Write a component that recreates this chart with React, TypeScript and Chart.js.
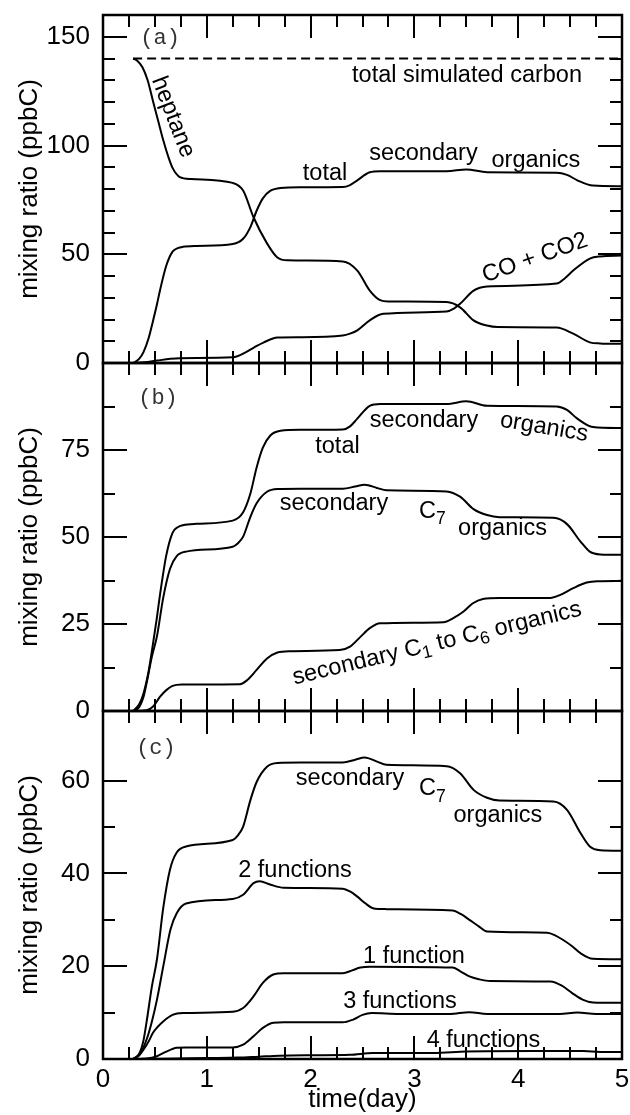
import React, { useEffect, useRef } from 'react';
import { Chart, registerables } from 'chart.js';

Chart.register(...registerables);

const FONT = '"Liberation Sans", Arial, Helvetica, sans-serif';
const MONO = '"Liberation Mono", "Courier New", monospace';

// ---------- data (time in days, mixing ratio in ppbC) ----------
const carbonDays = [0.29, 5.0];
const carbonVals = [140, 140];

const heptaneDays = [0.29, 0.33, 0.38, 0.43, 0.48, 0.53, 0.58, 0.63, 0.67, 0.74, 0.85, 1.25, 1.35, 1.45, 1.58, 1.68, 1.78, 2.31, 2.45, 2.57, 2.67, 2.75, 3.31, 3.44, 3.57, 3.7, 3.8, 4.37, 4.53, 4.69, 4.79, 5.0];
const heptaneVals = [140, 139, 136, 130, 120.7, 111.6, 102.5, 94.7, 89.7, 85.5, 84.6, 82.8, 79.3, 67, 55, 48.5, 47.2, 46.7, 42.5, 33.3, 28.9, 28.3, 28.0, 25.6, 19.6, 17.2, 16.5, 16.3, 13.5, 9.5, 9.0, 8.8];

const totalDays = [0.29, 0.35, 0.39, 0.44, 0.48, 0.52, 0.55, 0.61, 0.67, 0.72, 0.77, 0.9, 1.25, 1.35, 1.42, 1.48, 1.54, 1.61, 1.71, 1.9, 2.31, 2.38, 2.45, 2.57, 2.67, 3.31, 3.5, 3.7, 4.37, 4.47, 4.57, 4.72, 5.0];
const totalVals = [0, 2, 5, 11.5, 19, 27, 33.6, 44.8, 51.2, 52.8, 53.4, 53.8, 54.7, 57.1, 62.5, 70, 75.7, 79.1, 80.5, 80.8, 80.9, 81.8, 84, 87.7, 88.2, 88.2, 89, 87.7, 87.5, 86.5, 84, 81.6, 81.3];

const coDays = [0.29, 0.4, 0.52, 0.65, 0.74, 1.25, 1.3, 1.35, 1.45, 1.55, 1.68, 1.9, 2.31, 2.38, 2.45, 2.57, 2.7, 3.31, 3.38, 3.44, 3.57, 3.7, 4.37, 4.45, 4.53, 4.69, 4.79, 5.0];
const coVals = [0, 0.3, 1.1, 1.9, 2.2, 2.6, 3.2, 4.3, 7, 9.5, 11.7, 11.8, 12.6, 13.5, 15, 19.6, 22.6, 23.7, 25, 27.2, 33.3, 35.2, 36.5, 39, 42.5, 48, 49, 49.4];

const c7Days = [0.29, 0.35, 0.39, 0.42, 0.47, 0.52, 0.58, 0.645, 0.71, 0.8, 1.25, 1.3, 1.35, 1.42, 1.48, 1.58, 1.68, 1.9, 2.31, 2.43, 2.52, 2.64, 2.73, 3.31, 3.44, 3.57, 3.7, 3.82, 4.34, 4.47, 4.6, 4.69, 4.79, 5.0];
const c7Vals = [0, 1.2, 4, 8, 15.5, 21.5, 32.5, 40.8, 44.5, 45.8, 47.2, 48.2, 50.1, 55.8, 59.7, 63, 63.8, 63.9, 63.9, 64.5, 65.0, 64.1, 63.4, 63.1, 61.6, 58, 56.3, 55.7, 55.5, 53.7, 48.7, 45.8, 45, 44.9];

const c1to6Days = [0.29, 0.42, 0.48, 0.55, 0.61, 0.67, 0.76, 1.32, 1.39, 1.48, 1.58, 1.68, 1.8, 2.28, 2.38, 2.48, 2.57, 2.67, 3.28, 3.37, 3.47, 3.56, 3.66, 3.82, 4.31, 4.4, 4.53, 4.66, 4.76, 5.0];
const c1to6Vals = [0, 0.2, 1.2, 4.1, 6, 7.2, 7.6, 7.7, 8.9, 11.8, 15.1, 16.8, 17.2, 17.5, 18.5, 21.3, 23.8, 25.2, 25.5, 26.6, 28.5, 30.9, 32.2, 32.5, 32.5, 33.3, 35.3, 36.9, 37.3, 37.4];

const f2Days = [0.29, 0.36, 0.42, 0.47, 0.52, 0.58, 0.65, 0.71, 0.8, 1.25, 1.35, 1.45, 1.51, 1.61, 1.74, 2.31, 2.38, 2.45, 2.53, 2.6, 2.73, 3.37, 3.45, 3.53, 3.62, 3.7, 4.28, 4.36, 4.43, 4.52, 4.6, 4.72, 5.0];
const f2Vals = [0, 1.2, 4.2, 8, 12.8, 19.9, 27.9, 31.4, 33.5, 34.5, 35.4, 37.9, 38.3, 37.6, 36.9, 36.7, 36.1, 35, 33.5, 32.5, 32.3, 32, 31.2, 30, 28.6, 27.5, 27.2, 26.6, 25.7, 24.3, 22.8, 21.6, 21.5];

const f1Days = [0.29, 0.34, 0.39, 0.44, 0.48, 0.53, 0.58, 0.67, 0.77, 1.25, 1.35, 1.45, 1.54, 1.64, 1.74, 2.31, 2.4, 2.48, 2.57, 3.37, 3.45, 3.53, 3.62, 3.73, 4.31, 4.42, 4.52, 4.62, 4.72, 5.0];
const f1Vals = [0, 0.6, 2.0, 3.8, 5.6, 7, 8.1, 9.5, 9.9, 10.2, 11, 13.5, 16.4, 18.2, 18.5, 18.5, 19.1, 19.7, 19.9, 19.7, 18.8, 17.8, 17.2, 16.8, 16.7, 15.8, 14.2, 12.8, 12.2, 12.1];

const f3Days = [0.29, 0.42, 0.52, 0.61, 0.71, 0.8, 1.25, 1.35, 1.45, 1.54, 1.64, 1.74, 2.31, 2.41, 2.5, 2.59, 2.86, 3.34, 3.53, 3.7, 4.4, 4.57, 4.75, 5.0];
const f3Vals = [0, 0.1, 0.6, 1.6, 2.4, 2.5, 2.5, 3.1, 4.9, 6.7, 7.8, 7.9, 7.9, 8.5, 9.5, 9.9, 9.7, 9.7, 10.1, 9.7, 9.7, 10.0, 9.7, 9.7];

const f4Days = [0.29, 0.6, 1.0, 1.3, 1.5, 1.7, 2.0, 2.38, 2.6, 3.18, 3.5, 4.14, 4.63, 4.79, 5.0];
const f4Vals = [0, 0.05, 0.2, 0.3, 0.5, 0.7, 0.8, 0.9, 1.3, 1.3, 1.6, 1.7, 1.7, 1.5, 1.5];

// ---------- axes ----------
const xTickStep = 0.25;
const panelA = { id: 'ya', min: 0, max: 160, step: 10, major: 50, weight: 3 };
const panelB = { id: 'yb', min: 0, max: 100, step: 12.5, major: 25, weight: 2 };
const panelC = { id: 'yc', min: 0, max: 75, step: 10, major: 20, weight: 1 };
const panels = [panelA, panelB, panelC];

// ---------- text labels (data coordinates) ----------
type Ann = { axis: string; x: number; y: number; text: string; rot?: number; mid?: boolean; mono?: boolean };
const annotations: Ann[] = [
  { axis: 'ya', x: 0.55, y: 149.4, text: '(a)', mono: true, mid: true },
  { axis: 'ya', x: 3.507, y: 129.3, text: 'total simulated carbon' },
  { axis: 'ya', x: 0.674, y: 113.1, text: 'heptane', rot: 69, mid: true },
  { axis: 'ya', x: 2.139, y: 84.1, text: 'total' },
  { axis: 'ya', x: 3.087, y: 93.3, text: 'secondary' },
  { axis: 'ya', x: 4.171, y: 90.3, text: 'organics' },
  { axis: 'ya', x: 4.162, y: 48.3, text: 'CO + CO2', rot: -19.5, mid: true },

  { axis: 'yb', x: 0.53, y: 89.9, text: '(b)', mono: true, mid: true },
  { axis: 'yb', x: 2.259, y: 74.1, text: 'total' },
  { axis: 'yb', x: 3.092, y: 81.6, text: 'secondary' },
  { axis: 'yb', x: 4.249, y: 81.5, text: 'organics', rot: 9.5, mid: true },
  { axis: 'yb', x: 2.225, y: 57.8, text: 'secondary' },
  { axis: 'yb', x: 3.174, y: 55.5, text: 'C_7' },
  { axis: 'yb', x: 3.849, y: 50.6, text: 'organics' },
  { axis: 'yb', x: 3.218, y: 19.4, text: 'secondary C_1 to C_6 organics', rot: -13.5, mid: true },

  { axis: 'yc', x: 0.51, y: 67.0, text: '(c)', mono: true, mid: true },
  { axis: 'yc', x: 2.38, y: 59.1, text: 'secondary' },
  { axis: 'yc', x: 3.174, y: 56.9, text: 'C_7' },
  { axis: 'yc', x: 3.805, y: 51.1, text: 'organics' },
  { axis: 'yc', x: 1.85, y: 39.2, text: '2 functions' },
  { axis: 'yc', x: 2.996, y: 20.7, text: '1 function' },
  { axis: 'yc', x: 2.861, y: 11.0, text: '3 functions' },
  { axis: 'yc', x: 3.666, y: 2.6, text: '4 functions' },
];

const pts = (d: number[], v: number[]) => d.map((x, i) => ({ x, y: v[i] }));

const isMult = (v: number, m: number) => Math.abs(v / m - Math.round(v / m)) < 1e-6;

const framePlugin = {
  id: 'frameTicks',
  afterDraw(chart: any) {
    const ctx = chart.ctx as CanvasRenderingContext2D;
    const xs = chart.scales.x;
    const left = xs.left;
    const right = xs.right;
    ctx.save();
    ctx.strokeStyle = '#000';
    ctx.lineCap = 'butt';
    const line = (x1: number, y1: number, x2: number, y2: number) => {
      ctx.beginPath();
      ctx.moveTo(x1, y1);
      ctx.lineTo(x2, y2);
      ctx.stroke();
    };
    for (const p of panels) {
      const s = chart.scales[p.id];
      const top = s.top;
      const bottom = s.bottom;
      ctx.lineWidth = 2;
      for (const t of s.ticks) {
        const v = t.value;
        if (v <= s.min + 1e-9 || v >= s.max - 1e-9) continue;
        const y = Math.round(s.getPixelForValue(v));
        const len = isMult(v, p.major) ? 24 : 12;
        line(left, y, left + len, y);
        line(right, y, right - len, y);
      }
      for (const t of xs.ticks) {
        const v = t.value;
        if (v <= xs.min + 1e-9 || v >= xs.max - 1e-9) continue;
        const x = Math.round(xs.getPixelForValue(v));
        const len = isMult(v, 1) ? 23 : 12;
        line(x, bottom, x, bottom - len);
        line(x, top, x, top + len);
      }
      ctx.lineWidth = 2.5;
      ctx.strokeRect(left, top, right - left, bottom - top);
    }
    ctx.restore();
  },
};

const annPlugin = {
  id: 'annotations',
  afterDatasetsDraw(chart: any) {
    const ctx = chart.ctx as CanvasRenderingContext2D;
    const xs = chart.scales.x;
    ctx.save();
    for (const a of annotations) {
      const ys = chart.scales[a.axis];
      const px = xs.getPixelForValue(a.x);
      const py = ys.getPixelForValue(a.y);
      const size = a.mono ? 22 : 23.5;
      const fam = a.mono ? MONO : FONT;
      const parts = a.text.split(/_(\d)/);
      ctx.save();
      ctx.translate(px, py);
      ctx.rotate(((a.rot || 0) * Math.PI) / 180);
      ctx.textBaseline = a.mid ? 'middle' : 'alphabetic';
      ctx.textAlign = 'left';
      let total = 0;
      const widths = parts.map((t, i) => {
        ctx.font = `${i % 2 ? size * 0.75 : size}px ${fam}`;
        const w = ctx.measureText(t).width;
        total += w;
        return w;
      });
      let cx = -total / 2;
      parts.forEach((t, i) => {
        const sub = i % 2 === 1;
        ctx.font = `${sub ? size * 0.75 : size}px ${fam}`;
        ctx.fillStyle = a.mono ? '#333' : '#000';
        ctx.fillText(t, cx, sub ? size * 0.28 : 0);
        cx += widths[i];
      });
      ctx.restore();
    }
    ctx.restore();
  },
};

function yScale(p: typeof panelA) {
  return {
    type: 'linear',
    position: 'left',
    stack: 'panels',
    stackWeight: 1,
    weight: p.weight,
    min: p.min,
    max: p.max,
    grid: { display: false, drawTicks: false },
    border: { display: false },
    ticks: {
      stepSize: p.step,
      autoSkip: false,
      padding: 13,
      color: '#000',
      font: { family: FONT, size: 26 },
      callback: (v: any) => (isMult(Number(v), p.major) && Number(v) < p.max ? String(v) : ''),
    },
    title: {
      display: true,
      text: 'mixing ratio (ppbC)',
      color: '#000',
      font: { family: FONT, size: 26 },
      padding: { top: 14, bottom: 0 },
    },
    afterFit: (s: any) => {
      s.width = 103;
      s.paddingTop = 0;
      s.paddingBottom = 0;
      s.paddingLeft = 0;
      s.paddingRight = 0;
    },
  };
}

const line = (d: number[], v: number[], axis: string, extra: any = {}) => ({
  data: pts(d, v),
  yAxisID: axis,
  xAxisID: 'x',
  borderColor: '#000',
  borderWidth: 2,
  pointRadius: 0,
  fill: false,
  cubicInterpolationMode: 'monotone',
  clip: 2,
  ...extra,
});

export default function App() {
  const ref = useRef<HTMLCanvasElement | null>(null);
  useEffect(() => {
    if (!ref.current) return;
    Chart.defaults.font.family = FONT;
    const chart = new Chart(ref.current, {
      type: 'line',
      data: {
        datasets: [
          line(carbonDays, carbonVals, 'ya', { borderDash: [9, 5], cubicInterpolationMode: 'default', tension: 0 }),
          line(heptaneDays, heptaneVals, 'ya'),
          line(totalDays, totalVals, 'ya'),
          line(coDays, coVals, 'ya'),
          line(totalDays, totalVals, 'yb'),
          line(c7Days, c7Vals, 'yb'),
          line(c1to6Days, c1to6Vals, 'yb'),
          line(c7Days, c7Vals, 'yc'),
          line(f2Days, f2Vals, 'yc'),
          line(f1Days, f1Vals, 'yc'),
          line(f3Days, f3Vals, 'yc'),
          line(f4Days, f4Vals, 'yc'),
        ] as any,
      },
      options: {
        animation: false,
        responsive: false,
        devicePixelRatio: 1,
        layout: { padding: { top: 15, right: 8, left: 0, bottom: 0 } },
        plugins: { legend: { display: false }, tooltip: { enabled: false } },
        scales: {
          x: {
            type: 'linear',
            position: 'bottom',
            min: 0,
            max: 5,
            grid: { display: false, drawTicks: false },
            border: { display: false },
            ticks: {
              stepSize: xTickStep,
              autoSkip: false,
              maxRotation: 0,
              padding: 5,
              color: '#000',
              font: { family: FONT, size: 26 },
              callback: (v: any) => (isMult(Number(v), 1) ? String(v) : ''),
            },
            title: {
              display: true,
              text: 'time(day)',
              color: '#000',
              font: { family: FONT, size: 26 },
              padding: { top: 0, bottom: 0 },
            },
            afterFit: (s: any) => {
              s.height = 56;
              s.paddingLeft = 0;
              s.paddingRight = 0;
              s.paddingTop = 0;
              s.paddingBottom = 0;
            },
          },
          ya: yScale(panelA),
          yb: yScale(panelB),
          yc: yScale(panelC),
        } as any,
      },
      plugins: [framePlugin, annPlugin],
    });
    return () => chart.destroy();
  }, []);
  return (
    <div style={{ position: 'fixed', left: 0, top: 0, width: 630, height: 1115, background: '#fff' }}>
      <canvas ref={ref} width={630} height={1115} style={{ display: 'block', width: 630, height: 1115 }} />
    </div>
  );
}
